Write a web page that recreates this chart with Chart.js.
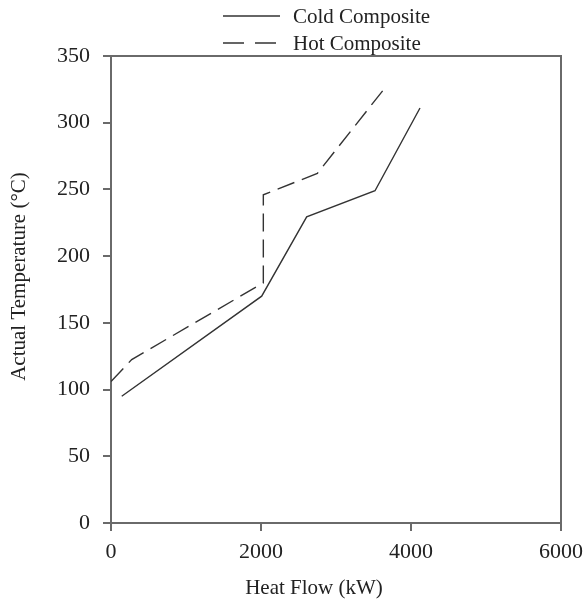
<!DOCTYPE html>
<html>
<head>
<meta charset="utf-8">
<script src="https://cdn.jsdelivr.net/npm/chart.js@4.4.1/dist/chart.umd.min.js"></script>
<style>
  html, body { margin: 0; padding: 0; background: #ffffff; }
  #wrap { width: 584px; height: 604px; position: relative; }
</style>
</head>
<body>
<div id="wrap"><canvas id="c" width="584" height="604"></canvas></div>
<script>
// ---- data ----
const coldX = [143, 2009, 2609, 3520, 4120];
const coldY = [95, 170, 229.5, 249, 311];
const hotX  = [0, 276, 2031, 2031, 2751, 3623];
const hotY  = [106, 122.5, 180, 246, 262, 324];
const xTicks = [0, 2000, 4000, 6000];
const yTicks = [0, 50, 100, 150, 200, 250, 300, 350];
const seriesNames = ['Cold Composite', 'Hot Composite'];
const xTitle = 'Heat Flow (kW)';
const yTitle = 'Actual Temperature (°C)';

const FONT = "'Liberation Serif', 'Times New Roman', serif";
const AXIS_COLOR = '#6a6a6a';
const LINE_COLOR = '#333333';
const TEXT_COLOR = '#222222';

const toPts = (xs, ys) => xs.map((x, i) => ({ x: x, y: ys[i] }));

const framePlugin = {
  id: 'frame',
  afterDatasetsDraw(chart) {
    const { ctx, chartArea: a } = chart;
    ctx.save();
    ctx.strokeStyle = AXIS_COLOR;
    ctx.lineWidth = 2;
    ctx.beginPath();
    ctx.moveTo(a.left, a.top);
    ctx.lineTo(a.right, a.top);
    ctx.lineTo(a.right, a.bottom);
    ctx.stroke();
    ctx.restore();
  }
};

const textPlugin = {
  id: 'texts',
  afterDraw(chart) {
    const { ctx, chartArea: a } = chart;
    ctx.save();
    ctx.fillStyle = TEXT_COLOR;
    // axis titles
    ctx.font = "21px " + FONT;
    ctx.textAlign = 'center';
    ctx.textBaseline = 'middle';
    ctx.fillText(xTitle, (a.left + a.right) / 2 - 22, 588);
    ctx.save();
    ctx.translate(19, (a.top + a.bottom) / 2 - 13);
    ctx.rotate(-Math.PI / 2);
    ctx.fillText(yTitle, 0, 0);
    ctx.restore();
    // legend
    const ds = chart.data.datasets;
    const rows = [16, 43];
    ds.forEach((d, i) => {
      const y = rows[i];
      ctx.strokeStyle = d.borderColor;
      ctx.lineWidth = d.borderWidth;
      ctx.setLineDash(i === 1 ? [21, 11] : []);
      ctx.beginPath();
      ctx.moveTo(223, y);
      ctx.lineTo(280, y);
      ctx.stroke();
      ctx.setLineDash([]);
      ctx.textAlign = 'left';
      ctx.fillStyle = TEXT_COLOR;
      ctx.font = "21px " + FONT;
      ctx.fillText(d.label, 293, y + 1);
    });
    ctx.restore();
  }
};

new Chart(document.getElementById('c'), {
  type: 'scatter',
  data: {
    datasets: [
      {
        label: seriesNames[0],
        data: toPts(coldX, coldY),
        showLine: true,
        borderColor: LINE_COLOR,
        borderWidth: 1.4,
        pointRadius: 0,
        fill: false,
        tension: 0
      },
      {
        label: seriesNames[1],
        data: toPts(hotX, hotY),
        showLine: true,
        borderColor: LINE_COLOR,
        borderWidth: 1.4,
        borderDash: [18, 8],
        pointRadius: 0,
        fill: false,
        tension: 0
      }
    ]
  },
  options: {
    responsive: false,
    animation: false,
    devicePixelRatio: 1,
    layout: { padding: { top: 56, right: 23, bottom: 0, left: 0 } },
    plugins: {
      legend: { display: false },
      tooltip: { enabled: false },
      title: { display: false }
    },
    scales: {
      x: {
        type: 'linear',
        min: 0,
        max: 6000,
        afterBuildTicks(scale) { scale.ticks = xTicks.map(v => ({ value: v })); },
        afterFit(scale) { scale.height = 81; scale.paddingRight = 0; scale.paddingLeft = 0; },
        border: { display: true, color: AXIS_COLOR, width: 2 },
        grid: { drawOnChartArea: false, drawTicks: true, tickLength: 8, color: AXIS_COLOR, lineWidth: 2 },
        ticks: { color: TEXT_COLOR, font: { family: FONT, size: 22 }, padding: 8, maxRotation: 0,
                 callback: v => String(v) },
        title: { display: false }
      },
      y: {
        type: 'linear',
        min: 0,
        max: 350,
        afterBuildTicks(scale) { scale.ticks = yTicks.map(v => ({ value: v })); },
        afterFit(scale) { scale.width = 111; },
        border: { display: true, color: AXIS_COLOR, width: 2 },
        grid: { drawOnChartArea: false, drawTicks: true, tickLength: 8, color: AXIS_COLOR, lineWidth: 2 },
        ticks: { color: TEXT_COLOR, font: { family: FONT, size: 22 }, padding: 13,
                 callback: v => String(v) },
        title: { display: false }
      }
    }
  },
  plugins: [framePlugin, textPlugin]
});
</script>
</body>
</html>
